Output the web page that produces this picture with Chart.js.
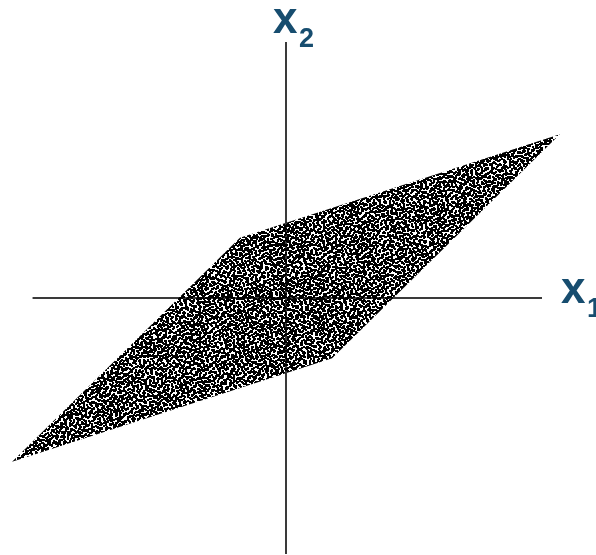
<!DOCTYPE html>
<html>
<head>
<meta charset="utf-8">
<script src="https://cdn.jsdelivr.net/npm/chart.js@4.4.1/dist/chart.umd.min.js"></script>
<style>
  html, body { margin: 0; padding: 0; background: #fff; }
  #wrap { width: 596px; height: 555px; }
</style>
</head>
<body>
<div id="wrap"><canvas id="mix-chart" width="596" height="555"></canvas></div>
<script>
// axis ends (data units)
const axisX1 = [-0.99, 1.0]
const axisX2 = [-1.0, 1.0]

// outline of the sample cloud: upper and lower edge, tip to tip
const upperEdgeX = [-1.07, -0.18, 1.07]
const upperEdgeY = [-0.64, 0.235, 0.64]
const lowerEdgeX = [-1.07, 0.18, 1.07]
const lowerEdgeY = [-0.64, -0.235, 0.64]

const axisNames = ['x', 'x']
const axisSubs = ['1', '2']

// start: stipple fill
// hand drawn dot tiles of different sizes, laid over each other so the
// repeat is not visible inside the cloud
const tileA = [
    '#..#.....#..#...#...',
    '.#....##....#.....#.',
    '...#.#....#....##..#',
    '#.......#..#.#......',
    '..##..#.....#....#.#',
    '.#...#...#.#...#....',
    '#...#..#.....#.#..#.',
    '..#.....##.#......#.',
    '.#..#.#....#..##....',
    '#......#.#...#....##',
    '..#.#.#.....#..#....',
    '.#.....#..#.#...#.#.',
    '...##.....#....#...#',
    '#.#...#.#....#...#..',
    '....#.....#..#.#...#',
    '.##...#.#......#.#..',
    '#....#...#.##......#',
    '..#.#...#.....#.#...',
    '.#....#...#.#....##.',
    '...#.#..#......#...#',
]
const tileB = [
    '..#...#....#..#..',
    '#....#..#.....#.#',
    '..#.#.....#.#....',
    '.#....#.#.....#.#',
    '...#.....#..#....',
    '#....#.#....#..#.',
    '..#.......#....#.',
    '.#..#.#.#.....#..',
    '#.......#..#.#...',
    '...#.#.....#...#.',
    '.#....#.#......#.',
    '...#.....#.#.#..#',
    '#.#..#........#..',
    '....#..#.#.#.....',
    '.#........#...#.#',
    '..#.#..#.....#...',
    '#......#..#.#....',
]

function stipple(size) {
    const cnv = document.createElement('canvas')
    cnv.width = size
    cnv.height = size
    const c = cnv.getContext('2d')
    c.fillStyle = '#000'
    // flip = read the tile column-wise
    const layer = (tile, n, dot, offX, offY, flip) => {
        const step = n * dot
        for (let oy = -step; oy < size; oy += step) {
            for (let ox = -step; ox < size; ox += step) {
                for (let r = 0; r < n; r++) {
                    for (let k = 0; k < n; k++) {
                        const on = flip ? tile[k].charAt(r) : tile[r].charAt(k)
                        if (on === '#') c.fillRect(ox + k * dot + offX, oy + r * dot + offY, dot, dot)
                    }
                }
            }
        }
    }
    layer(tileA, 20, 2, 0, 0, false)
    layer(tileB, 17, 2, 1, 1, false)
    layer(tileA, 20, 2, 11, 5, true)
    layer(tileB, 17, 2, 7, 12, true)
    return c.createPattern(cnv, 'repeat')
}
// end: stipple fill

const toPoints = (xs, ys) => xs.map((v, i) => ({x: v, y: ys[i]}))

const labelPlugin = {
    id: 'axisNames',
    afterDatasetsDraw(chart) {
        const {ctx, scales: {x, y}} = chart
        const x0 = x.getPixelForValue(0)
        const y0 = y.getPixelForValue(0)
        const right = x.getPixelForValue(axisX1[1])
        const top = y.getPixelForValue(axisX2[1])
        ctx.save()
        ctx.fillStyle = '#174d6f'
        ctx.textAlign = 'left'
        ctx.textBaseline = 'alphabetic'
        // x1 at the right end of the horizontal axis
        ctx.font = 'bold 44px "Liberation Sans", Arial, sans-serif'
        ctx.fillText(axisNames[0], right + 19, y0 + 5)
        ctx.font = 'bold 27px "Liberation Sans", Arial, sans-serif'
        ctx.fillText(axisSubs[0], right + 45, y0 + 19)
        // x2 above the vertical axis
        ctx.font = 'bold 44px "Liberation Sans", Arial, sans-serif'
        ctx.fillText(axisNames[1], x0 - 13, top - 9)
        ctx.font = 'bold 27px "Liberation Sans", Arial, sans-serif'
        ctx.fillText(axisSubs[1], x0 + 13, top + 5)
        ctx.restore()
    }
}

const pxPerUnit = 256
const mixChart = new Chart(document.getElementById('mix-chart'), {
    type: 'line',
    data: {
        datasets: [{
            label: 'upper',
            data: toPoints(upperEdgeX, upperEdgeY),
            borderWidth: 0,
            borderColor: 'rgba(0,0,0,0)',
            pointRadius: 0,
            fill: '+1',
            backgroundColor: stipple(680),
            tension: 0,
        }, {
            label: 'lower',
            data: toPoints(lowerEdgeX, lowerEdgeY),
            borderWidth: 0,
            borderColor: 'rgba(0,0,0,0)',
            pointRadius: 0,
            fill: false,
            tension: 0,
        }, {
            label: 'x1 axis',
            data: toPoints(axisX1, [0, 0]),
            borderWidth: 2,
            borderColor: '#3a3a3a',
            pointRadius: 0,
            fill: false,
        }, {
            label: 'x2 axis',
            data: toPoints([0, 0], axisX2),
            borderWidth: 2,
            borderColor: '#3a3a3a',
            pointRadius: 0,
            fill: false,
        }]
    },
    options: {
        responsive: false,
        animation: false,
        layout: { padding: 0 },
        scales: {
            x: { type: 'linear', display: false, min: -286 / pxPerUnit, max: (596 - 286) / pxPerUnit },
            y: { type: 'linear', display: false, min: -(555 - 298) / pxPerUnit, max: 298 / pxPerUnit }
        },
        plugins: {
            legend: { display: false },
            tooltip: { enabled: false }
        }
    },
    plugins: [labelPlugin]
})
</script>
</body>
</html>
